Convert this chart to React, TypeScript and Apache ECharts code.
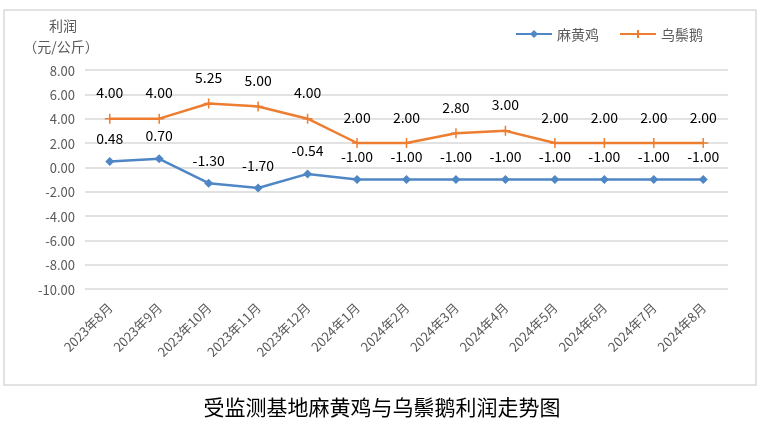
import React, { useEffect, useRef } from "react";
import * as echarts from "echarts";

const categories = [
  "2023年8月", "2023年9月", "2023年10月", "2023年11月", "2023年12月",
  "2024年1月", "2024年2月", "2024年3月", "2024年4月", "2024年5月",
  "2024年6月", "2024年7月", "2024年8月",
];
const chickenValues = [0.48, 0.7, -1.3, -1.7, -0.54, -1, -1, -1, -1, -1, -1, -1, -1];
const gooseValues = [4, 4, 5.25, 5, 4, 2, 2, 2.8, 3, 2, 2, 2, 2];
const seriesNames = ["麻黄鸡", "乌鬃鹅"];
const chartTitle = "受监测基地麻黄鸡与乌鬃鹅利润走势图";

const BLUE = "#4f86c6";
const ORANGE = "#ed7d31";
const FONT = "'Noto Sans CJK SC', 'Liberation Sans', sans-serif";

export default function App() {
  const ref = useRef<HTMLDivElement>(null);
  useEffect(() => {
    if (!ref.current) return;
    const chart = echarts.init(ref.current, undefined, { renderer: "svg" });
    chart.setOption({
      animation: false,
      textStyle: { fontFamily: FONT },
      graphic: [
        {
          type: "rect",
          shape: { x: 4, y: 10, width: 752, height: 375 },
          style: { fill: "none", stroke: "#d9d9d9", lineWidth: 1.5 },
        },
        {
          type: "text",
          x: 63, y: 25,
          style: { text: "利润", fill: "#595959", font: `14px ${FONT}`, align: "center", verticalAlign: "middle" },
        },
        {
          type: "text",
          x: 61, y: 46,
          style: { text: "（元/公斤）", fill: "#595959", font: `14px ${FONT}`, align: "center", verticalAlign: "middle" },
        },
        {
          type: "text",
          x: 382, y: 406,
          style: { text: chartTitle, fill: "#000", font: `21px ${FONT}`, align: "center", verticalAlign: "middle" },
        },
      ],
      legend: {
        top: 22,
        left: 510,
        itemWidth: 36,
        itemHeight: 10,
        itemGap: 20,
        textStyle: { color: "#595959", fontSize: 14 },
        data: seriesNames,
      },
      grid: { left: 85, right: 36, top: 70, bottom: 138 },
      xAxis: {
        type: "category",
        data: categories,
        boundaryGap: true,
        axisLine: { show: false },
        axisTick: { show: false },
        axisLabel: { rotate: 45, margin: 16, color: "#595959", fontSize: 13, interval: 0 },
      },
      yAxis: {
        type: "value",
        min: -10,
        max: 8,
        interval: 2,
        axisLine: { show: false },
        axisTick: { show: false },
        splitLine: { lineStyle: { color: "#d9d9d9", width: 1.5 } },
        axisLabel: {
          color: "#595959",
          fontSize: 13,
          margin: 10,
          formatter: (v: number) => v.toFixed(2),
        },
      },
      series: [
        {
          name: seriesNames[0],
          type: "line",
          data: chickenValues,
          symbol: "diamond",
          symbolSize: 9,
          lineStyle: { color: BLUE, width: 2.5 },
          itemStyle: { color: BLUE },
          label: {
            show: true,
            position: "top",
            distance: 12,
            color: "#000",
            fontSize: 14,
            formatter: (p: any) => Number(p.value).toFixed(2),
          },
        },
        {
          name: seriesNames[1],
          type: "line",
          data: gooseValues,
          symbol: "path://M5,0L5,10M0,5L10,5",
          symbolSize: 10,
          lineStyle: { color: ORANGE, width: 2.5 },
          itemStyle: { color: "none", borderColor: ORANGE, borderWidth: 1.5 },
          label: {
            show: true,
            position: "top",
            distance: 12,
            color: "#000",
            fontSize: 14,
            formatter: (p: any) => Number(p.value).toFixed(2),
          },
        },
      ],
    });
    return () => chart.dispose();
  }, []);
  return <div ref={ref} style={{ position: "fixed", left: 0, top: 0, width: 764, height: 427 }} />;
}
